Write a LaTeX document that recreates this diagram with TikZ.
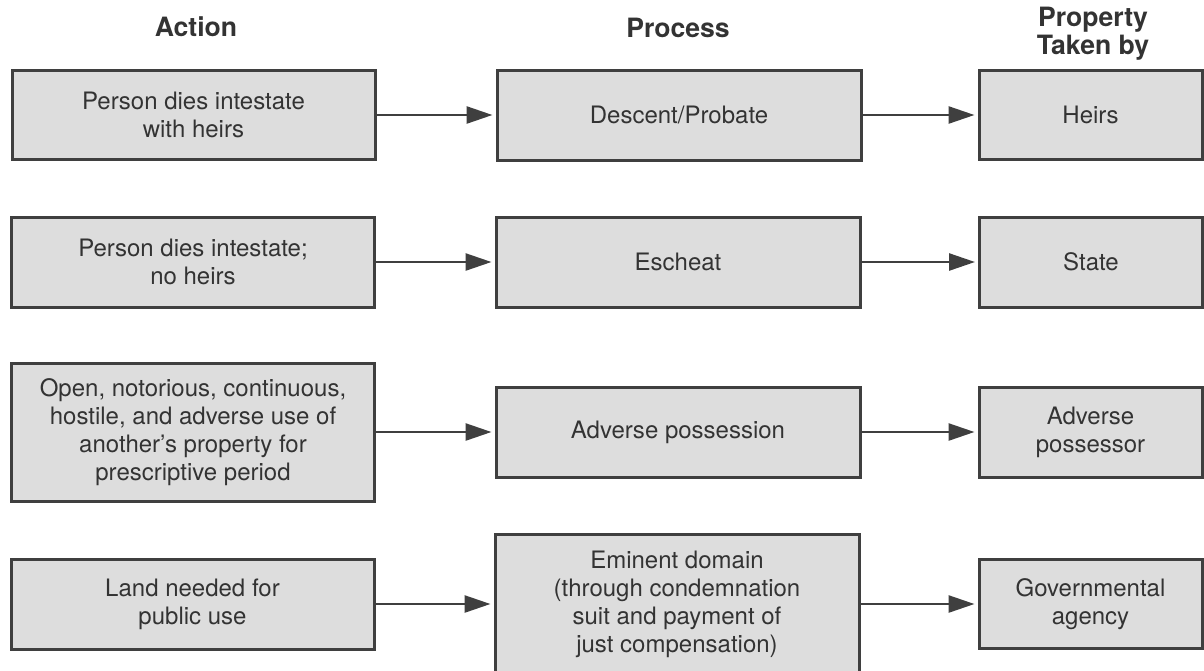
\documentclass[tikz,border=0pt]{standalone}
\usepackage{fontspec}
\setmainfont{TeX Gyre Heros}
\usetikzlibrary{arrows.meta}

\definecolor{boxfill}{HTML}{DDDDDD}
\definecolor{boxline}{HTML}{3F3F3F}
\definecolor{ink}{HTML}{333333}

\begin{document}
\begin{tikzpicture}[x=0.5pt,y=-0.5pt,
    link/.style={-{Triangle[length=13pt,width=8.5pt]}, line width=1.3pt, draw=boxline, shorten >=1.5pt},
    box/.style={rectangle, draw=boxline, fill=boxfill, line width=1.5pt, text=ink,
      align=center, inner sep=0pt, font=\fontsize{12}{14}\selectfont},
    actbox/.style={box, minimum width=181.5pt},
    procbox/.style={box, minimum width=182pt},
    propbox/.style={box, minimum width=111.5pt},
    heading/.style={text=ink, align=center, font=\bfseries\fontsize{13.3}{14}\selectfont}
    ]
\useasboundingbox (0,0) rectangle (1204,670);

% column headings
\node[heading] (hAct) at (196,27) {Action};
\node[heading] (hProc) at (678,28) {Process};
\node[heading] (hProp) at (1093,34) {Property\\Taken by};

% row 1
\node[actbox, minimum height=44.5pt] (act1) at (193.5,115) {Person dies intestate\\with heirs};
\node[procbox, minimum height=45pt] (proc1) at (679,115) {Descent/Probate};
\node[propbox, minimum height=44.5pt] (prop1) at (1090.5,115) {Heirs};

% row 2
\node[actbox, minimum height=45pt] (act2) at (193,262) {Person dies intestate;\\no heirs};
\node[procbox, minimum height=45pt] (proc2) at (678,262) {Escheat};
\node[propbox, minimum height=45pt] (prop2) at (1091,262) {State};

% row 3
\node[actbox, minimum height=69pt] (act3) at (193,432) {Open, notorious, continuous,\\hostile, and adverse use of\\another's property for\\prescriptive period};
\node[procbox, minimum height=45pt] (proc3) at (678,432) {Adverse possession};
\node[propbox, minimum height=45pt] (prop3) at (1090.5,432) {Adverse\\possessor};

% row 4
\node[actbox, minimum height=45pt] (act4) at (192.5,604) {Land needed for\\public use};
\node[procbox, minimum height=69.5pt] (proc4) at (677,604) {Eminent domain\\(through condemnation\\suit and payment of\\just compensation)};
\node[propbox, minimum height=44.5pt] (prop4) at (1090.5,604) {Governmental\\agency};

\draw[link] (act1) -- (proc1);
\draw[link] (proc1) -- (prop1);
\draw[link] (act2) -- (proc2);
\draw[link] (proc2) -- (prop2);
\draw[link] (act3) -- (proc3);
\draw[link] (proc3) -- (prop3);
\draw[link] (act4) -- (proc4);
\draw[link] (proc4) -- (prop4);
\end{tikzpicture}
\end{document}
